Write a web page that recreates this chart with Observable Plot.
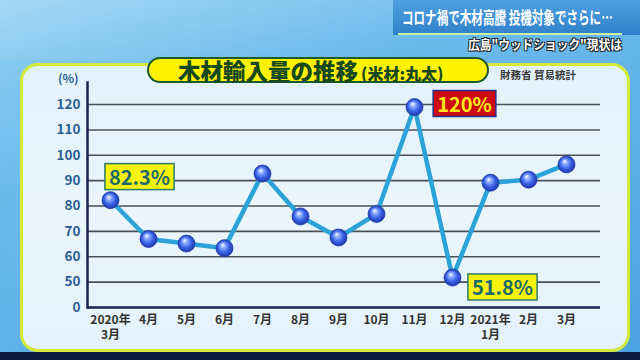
<!DOCTYPE html>
<html><head><meta charset="utf-8">
<script src="https://cdn.jsdelivr.net/npm/d3@7"></script>
<script src="https://cdn.jsdelivr.net/npm/@observablehq/plot@0.6"></script>
<style>
html,body{margin:0;padding:0;}
body{width:640px;height:360px;overflow:hidden;font-family:"Noto Sans CJK JP","Noto Sans",sans-serif;}
#stage{position:relative;width:640px;height:360px;overflow:hidden;
 background:linear-gradient(160deg,#8fd0f2 0%,#6ab9ec 35%,#5aaee6 70%,#4aa2df 100%);}
.shape{position:absolute;}
#panel{position:absolute;left:20px;top:63px;width:604px;height:283px;border:3px solid #d3ea3a;border-radius:18px;
 background:linear-gradient(180deg,#e2f1fb 0%,#eaf5fc 50%,#e4f2fb 100%);}
#bottom{position:absolute;left:0;top:352px;width:640px;height:8px;background:#0b1a3c;}
#header{position:absolute;left:393px;top:0;width:247px;height:35px;background:linear-gradient(180deg,#4b9ee0,#2f7ec8);opacity:.95;}
#hline{position:absolute;left:398px;top:33px;width:224px;height:2px;background:#c9f0a8;}
#htitle{position:absolute;left:402px;top:6px;white-space:nowrap;color:#fff;font-weight:bold;font-size:17px;line-height:22px;transform:scaleX(0.68);transform-origin:left top;letter-spacing:0px;}
#hsub{position:absolute;right:18px;top:35px;white-space:nowrap;color:#fff;font-weight:bold;font-size:13px;line-height:18px;
 text-shadow:-1px -1px 0 #222,1px -1px 0 #222,-1px 1px 0 #222,1px 1px 0 #222;transform:scaleX(0.9);transform-origin:right top;}
#pill{position:absolute;left:147px;top:57px;width:338px;height:22px;border:2.5px solid #1d5a2a;border-radius:14px;background:#fff200;}
#ptitle{position:absolute;left:178px;top:56px;white-space:nowrap;color:#17491f;font-weight:900;line-height:28px;}
#ptitle .a{font-size:22.5px;}
#ptitle .b{font-size:16px;margin-left:3px;}
#source{position:absolute;left:500px;top:67px;font-size:10.5px;font-weight:bold;color:#3a3a3a;white-space:nowrap;}
#pct{position:absolute;left:58px;top:69px;font-size:12px;font-weight:bold;color:#2c5e90;}
#chart{position:absolute;left:0;top:0;}
</style></head>
<body>
<div id="stage">
  <div class="shape" style="left:0;top:0;width:640px;height:60px;background:linear-gradient(170deg,rgba(255,255,255,0.18) 0%,rgba(255,255,255,0) 60%);"></div>
  <div id="panel"></div>
  <div id="bottom"></div>
  <div id="header"></div>
  <div id="hline"></div>
  <div id="htitle">コロナ禍で木材高騰 投機対象でさらに…</div>
  <div id="hsub">広島"ウッドショック"現状は</div>
  <div id="pill"></div>
  <div id="ptitle"><span class="a">木材輸入量の推移</span><span class="b">(米材:丸太)</span></div>
  <div id="source">財務省 貿易統計</div>
  <div id="pct">(%)</div>
  <div id="chart"></div>
</div>
<script>
// ---- data ----
const months = ["2020年\n3月","4月","5月","6月","7月","8月","9月","10月","11月","12月","2021年\n1月","2月","3月"];
const values = [82.3, 67.0, 65.2, 63.4, 92.8, 75.9, 67.6, 76.9, 119.0, 51.8, 89.2, 90.4, 96.4];
const yTicks = [40, 50, 60, 70, 80, 90, 100, 110, 120];
const yTickLabels = ["0", "50", "60", "70", "80", "90", "100", "110", "120"];
const annMonths = ["2020年\n3月", "11月", "12月"];
const annTexts = ["82.3%", "120%", "51.8%"];

const data = months.map((m, i) => ({month: m, value: values[i]}));
const ann = annMonths.map((m, i) => ({month: m, value: values[months.indexOf(m)], text: annTexts[i]}));

const chart = Plot.plot({
  width: 640, height: 360,
  marginLeft: 87, marginRight: 40, marginTop: 82, marginBottom: 53,
  style: {background: "transparent", fontFamily: "'Noto Sans CJK JP', sans-serif", overflow: "visible"},
  x: {type: "point", domain: months, range: [106, 569], padding: 0, axis: null},
  y: {domain: [40, 128.7], axis: null},
  marks: [
    Plot.ruleY(yTicks.slice(1), {stroke: "#4b5056", strokeWidth: 1.6}),
    Plot.axisY({ticks: yTicks, tickFormat: d => yTickLabels[yTicks.indexOf(d)], tickSize: 0, tickPadding: 7,
      fontSize: 13.5, fontWeight: "bold", fill: "#2c5e90", label: null}),
    Plot.axisX({tickSize: 0, tickPadding: 5, fontSize: 12, fontWeight: "bold", fill: "#333", label: null, lineHeight: 1.3}),
    Plot.frame({anchor: "left", stroke: "#1b2150", strokeWidth: 2.5}),
    Plot.ruleY([40], {stroke: "#1b2150", strokeWidth: 2.5}),
    Plot.line(data, {x: "month", y: "value", stroke: "#2ba3d9", strokeWidth: 4.5}),
    Plot.dot(data, {x: "month", y: "value", r: 8.5, fill: "url(#ball)", stroke: "#1f3aa6", strokeWidth: 0.8}),
    Plot.text(ann.slice(0, 1), {x: "month", y: "value", text: "text", dx: 29, dy: -22, fontSize: 20, fontWeight: "bold", fill: "#1d6a6c"}),
    Plot.text(ann.slice(1, 2), {x: "month", y: "value", text: "text", dx: 50, dy: -2, fontSize: 20, fontWeight: "bold", fill: "#ffe818"}),
    Plot.text(ann.slice(2, 3), {x: "month", y: "value", text: "text", dx: 50, dy: 11, fontSize: 20, fontWeight: "bold", fill: "#1d6a6c"})
  ]
});
document.getElementById("chart").appendChild(chart);

// glossy ball gradient
const ns = "http://www.w3.org/2000/svg";
const defs = document.createElementNS(ns, "defs");
defs.innerHTML = `<radialGradient id="ball" cx="0.5" cy="0.5" r="0.55" fx="0.38" fy="0.3">
  <stop offset="0" stop-color="#ffffff"/>
  <stop offset="0.25" stop-color="#8fb0ff"/>
  <stop offset="0.6" stop-color="#3a62e6"/>
  <stop offset="1" stop-color="#1a2f9e"/>
</radialGradient>`;
chart.insertBefore(defs, chart.firstChild);

// boxes behind annotation labels
const boxStyles = [
  {fill: "#f6f20c", stroke: "#2b7d6c"},
  {fill: "#cc0a10", stroke: "#28308a"},
  {fill: "#f6f20c", stroke: "#2b7d6c"}
];
const textGroups = Array.from(chart.querySelectorAll('g[aria-label="text"]'));
textGroups.forEach((g, i) => {
  const t = g.querySelector("text");
  if (!t) return;
  const b = t.getBBox();
  const r = document.createElementNS(ns, "rect");
  r.setAttribute("x", b.x - 4);
  r.setAttribute("y", b.y + 2);
  r.setAttribute("width", b.width + 8);
  r.setAttribute("height", b.height - 3);
  r.setAttribute("fill", boxStyles[i].fill);
  r.setAttribute("stroke", boxStyles[i].stroke);
  r.setAttribute("stroke-width", 1.5);
  const tr = t.getAttribute("transform");
  if (tr) r.setAttribute("transform", tr);
  const tx = t.getAttribute("x"), ty = t.getAttribute("y");
  if (tx || ty) {
    // getBBox already includes x/y attributes
  }
  g.insertBefore(r, g.firstChild);
});
</script>
</body></html>
